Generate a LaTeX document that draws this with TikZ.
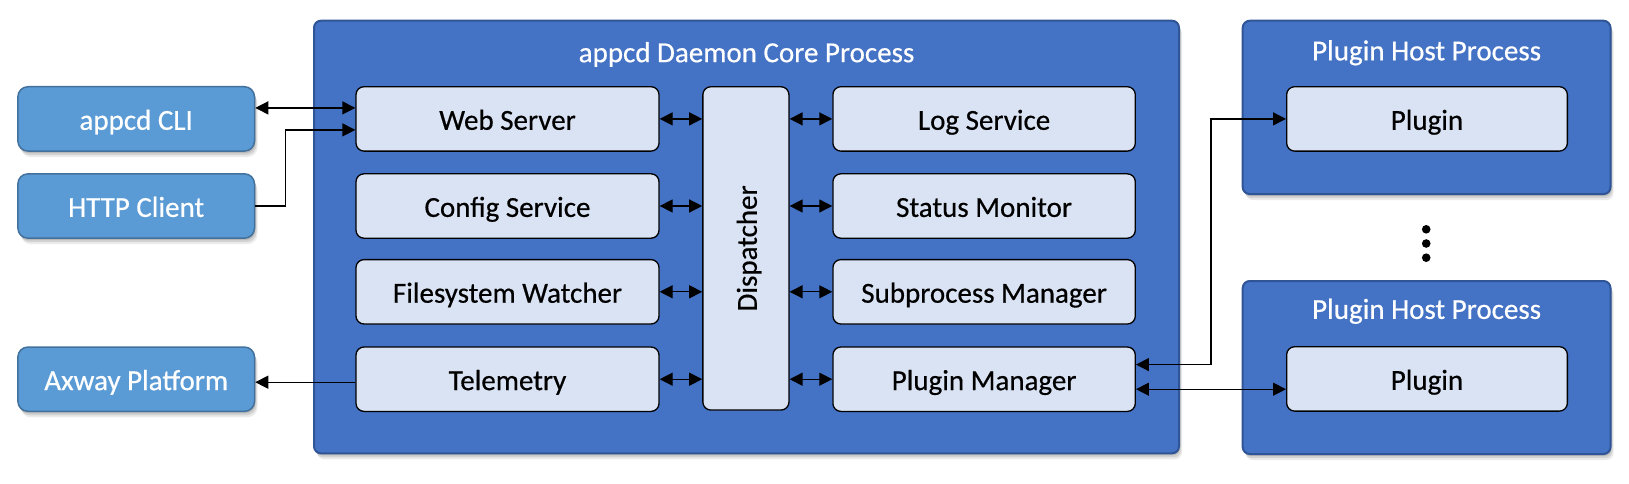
\documentclass[tikz,border=0pt]{standalone}
\usepackage{fontspec}
\setmainfont{Carlito}[FakeBold=0.5]
\usetikzlibrary{arrows.meta,shadows,calc}
\definecolor{contfill}{HTML}{4472C4}
\definecolor{contdraw}{HTML}{2F5597}
\definecolor{extfill}{HTML}{5B9BD5}
\definecolor{extdraw}{HTML}{41719C}
\definecolor{innerfill}{HTML}{DAE3F3}
\begin{document}
\begin{tikzpicture}[x=1pt,y=-1pt,
  txt/.style={font=\fontsize{29}{34}\selectfont,text height=21.75pt,text depth=0pt,inner sep=0pt},
  softshadow/.style={
    drop shadow={shadow xshift=1pt,shadow yshift=-2pt,opacity=.12,fill=black},
    drop shadow={shadow xshift=2pt,shadow yshift=-4pt,opacity=.10,fill=black},
    drop shadow={shadow xshift=3pt,shadow yshift=-6pt,opacity=.08,fill=black}},
  container/.style={draw=contdraw,fill=contfill,line width=2pt,rounded corners=7pt,softshadow,inner sep=0pt},
  extbox/.style={txt,draw=extdraw,fill=extfill,line width=1.5pt,rounded corners=10pt,softshadow,
    minimum width=236.6pt,minimum height=64.3pt,text=white},
  inner/.style={txt,draw=black,fill=innerfill,line width=1.3pt,rounded corners=8pt,
    minimum height=64.4pt},
  ctitle/.style={txt,text=white},
  dbl/.style={line width=1.3pt,{Triangle[length=13pt,width=13pt]}-{Triangle[length=13pt,width=13pt]}},
  sarr/.style={line width=1.3pt,-{Triangle[length=13pt,width=13pt]}},
  dot/.style={circle,fill=black,inner sep=0pt,minimum size=8.6pt}
]
\useasboundingbox (0,0) rectangle (1629,484);

% containers
\node[container,minimum width=865pt,minimum height=432.6pt] (core) at (746.5,237) {};
\node[ctitle] (coretitle) at (746.5,51.3) {appcd Daemon Core Process};
\node[container,minimum width=367.8pt,minimum height=173.3pt] (host1) at (1426.6,107.4) {};
\node[ctitle] (host1title) at (1426.6,49.5) {Plugin Host Process};
\node[container,minimum width=367.8pt,minimum height=173pt] (host2) at (1426.6,367.5) {};
\node[ctitle] (host2title) at (1426.6,308) {Plugin Host Process};

% external boxes
\node[extbox] (cli) at (136.2,118.9) {appcd CLI};
\node[extbox] (http) at (136.2,206) {HTTP Client};
\node[extbox] (ax) at (136.2,379.2) {Axway Platform};

% left column
\node[inner,minimum width=303pt] (ws) at (507.5,118.9) {Web Server};
\node[inner,minimum width=303pt] (cfg) at (507.5,206) {Config Service};
\node[inner,minimum width=303pt] (fsw) at (507.5,291.8) {Filesystem Watcher};
\node[inner,minimum width=303pt] (tel) at (507.5,379.2) {Telemetry};

% dispatcher
\node[draw=black,fill=innerfill,line width=1.3pt,rounded corners=8pt,inner sep=0pt,
  minimum width=86.1pt,minimum height=323.3pt] (disp) at (745.9,248.4) {};
\node[txt,rotate=90] (disptext) at (disp.center) {Dispatcher};

% right column
\node[inner,minimum width=302.4pt] (log) at (984.1,118.9) {Log Service};
\node[inner,minimum width=302.4pt] (stat) at (984.1,206) {Status Monitor};
\node[inner,minimum width=302.4pt] (sub) at (984.1,291.8) {Subprocess Manager};
\node[inner,minimum width=302.4pt] (pm) at (984.1,379.2) {Plugin Manager};

% plugins
\node[inner,minimum width=280.7pt] (p1) at (1427,118.9) {Plugin};
\node[inner,minimum width=280.7pt] (p2) at (1427,378.9) {Plugin};

% dots
\node[dot] (d1) at (1426.2,229.3) {};
\node[dot] (d2) at (1426.2,243.5) {};
\node[dot] (d3) at (1426.2,257.7) {};

% connectors: left column <-> dispatcher
\foreach \n in {ws,cfg,fsw,tel} {
  \draw[dbl] (\n.east) -- (\n.east -| disp.west);
}
\foreach \n in {log,stat,sub,pm} {
  \draw[dbl] (\n.west) -- (\n.west -| disp.east);
}

% external connectors
\coordinate (wsA) at ([yshift=11pt]ws.west);
\coordinate (wsB) at ([yshift=-11pt]ws.west);
\coordinate (e1) at (285.7,0);
\draw[dbl] (wsA -| cli.east) -- (wsA);
\draw[sarr] (http.east) -- (http.east -| e1) -- (e1 |- wsB) -- (wsB);
\coordinate (telA) at ([yshift=-3pt]tel.west);
\draw[sarr] (telA) -- (telA -| ax.east);

% plugin connectors
\coordinate (e2) at (1211,0);
\coordinate (pmA) at ([yshift=14.6pt]pm.east);
\coordinate (pmB) at ([yshift=-10pt]pm.east);
\draw[dbl] (pmA) -- (pmA -| e2) -- (e2 |- p1.west) -- (p1.west);
\draw[dbl] (pmB) -- (pmB -| p2.west);
\end{tikzpicture}
\end{document}
